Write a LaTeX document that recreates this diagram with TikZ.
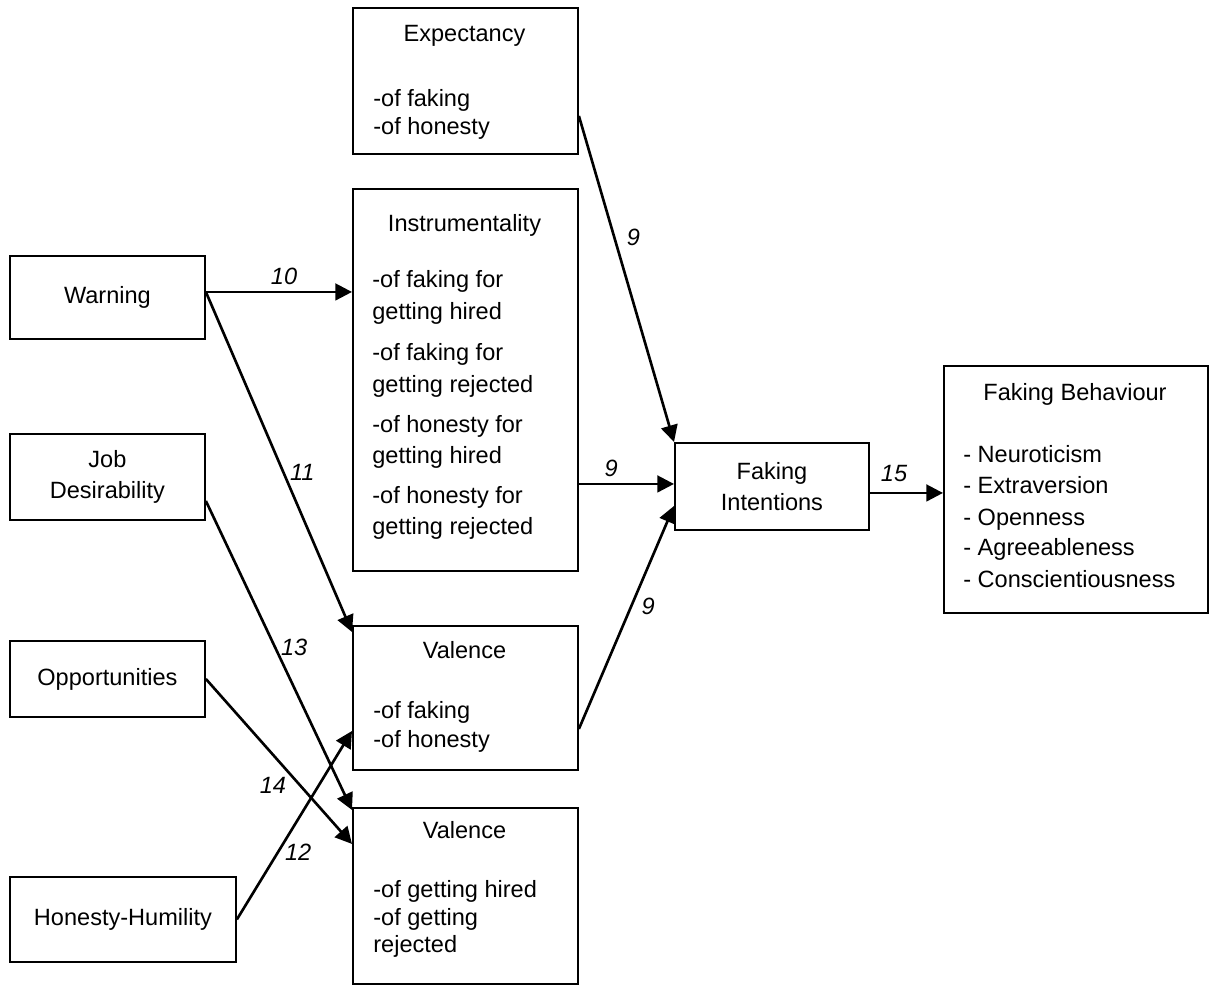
\documentclass[tikz,border=0pt]{standalone}
\usepackage{fontspec}
\setmainfont{Liberation Sans}
\usetikzlibrary{arrows.meta, positioning}

\begin{document}
\begin{tikzpicture}[x=0.02cm, y=-0.02cm, >={Triangle[length=9.5pt,width=9.5pt]}, font=\fontsize{13.4}{18}\selectfont]
\tikzstyle{box}=[draw, line width=1.1pt, anchor=north west, inner sep=0pt, align=center]
\tikzstyle{head}=[anchor=base, inner sep=0pt]
\tikzstyle{item}=[anchor=base west, inner sep=0pt]
\tikzstyle{conn}=[->, line width=1.5pt]
\tikzstyle{num}=[font=\fontsize{13.4}{18}\selectfont\itshape, inner sep=0pt]

\useasboundingbox (0,0) rectangle (1209,986);

% left column
\node[box, minimum width=3.9cm,  minimum height=1.66cm] (warn) at (9,255)  {Warning};
\node[box, minimum width=3.9cm,  minimum height=1.72cm] (job)  at (9,433)  {Job\\Desirability};
\node[box, minimum width=3.9cm,  minimum height=1.52cm] (opp)  at (9,640)  {Opportunities};
\node[box, minimum width=4.52cm, minimum height=1.7cm]  (hon)  at (9,876)  {Honesty-Humility};

% middle column
\node[box, minimum width=4.5cm, minimum height=2.92cm] (expect) at (352,7)   {};
\node[box, minimum width=4.5cm, minimum height=7.64cm] (instr)  at (352,188) {};
\node[box, minimum width=4.5cm, minimum height=2.88cm] (val1)   at (352,625) {};
\node[box, minimum width=4.5cm, minimum height=3.52cm] (val2)   at (352,807) {};

\node[head] (expect-h) at (464.5,42)  {Expectancy};
\node[head] (instr-h)  at (464.5,232) {Instrumentality};
\node[head] (val1-h)   at (464.5,658) {Valence};
\node[head] (val2-h)   at (464.5,838) {Valence};

\foreach \y/\t [count=\i] in {107/-of faking, 135/-of honesty}
  \node[item] (expect-\i) at (373,\y) {\t};
\foreach \y/\t [count=\i] in {288/-of faking for, 319/getting hired, 360/-of faking for, 392/getting rejected,
                              432/-of honesty for, 463/getting hired, 503/-of honesty for, 534/getting rejected}
  \node[item] (instr-\i) at (372,\y) {\t};
\foreach \y/\t [count=\i] in {718/-of faking, 747/-of honesty}
  \node[item] (val1-\i) at (373,\y) {\t};
\foreach \y/\t [count=\i] in {897/-of getting hired, 925/-of getting, 952/rejected}
  \node[item] (val2-\i) at (373,\y) {\t};

% right side
\node[box, minimum width=3.88cm, minimum height=1.74cm] (intent) at (674,442) {Faking\\Intentions};
\node[box, minimum width=5.28cm, minimum height=4.94cm] (behav)  at (943,365) {};
\node[head] (behav-h) at (1075,400) {Faking Behaviour};
\foreach \y/\t [count=\i] in {462/- Neuroticism, 493/- Extraversion, 525/- Openness, 555/- Agreeableness, 587/- Conscientiousness}
  \node[item] (behav-\i) at (963,\y) {\t};

% paths
\draw[conn] ([yshift=0.11cm]warn.east) -- node[num, pos=0.535, yshift=0.32cm] (n10) {10} ([yshift=0.11cm]warn.east -| instr.west);
\draw[conn] ([yshift=0.11cm]warn.east) -- node[num, pos=0.53, xshift=0.38cm] (n11) {11} ([yshift=-0.14cm]val1.north west);
\draw[conn] ([yshift=-0.48cm]job.east) -- node[num, pos=0.474, xshift=0.38cm] (n13) {13} ([yshift=-0.06cm]val2.north west);
\draw[conn] (opp.east) -- node[num, pos=0.644, xshift=-0.54cm] (n14) {14} ([yshift=1.04cm]val2.west);
\draw[conn] (hon.east) -- node[num, pos=0.358, xshift=0.4cm] (n12) {12} ([yshift=-0.66cm]val1.west);

\draw[conn] ([yshift=-0.7cm]expect.east) -- node[num, pos=0.373, xshift=0.38cm] (n9a) {9} (intent.north west);
\draw[conn] ([yshift=0.05cm]intent.west -| instr.east) -- node[num, pos=0.34, yshift=0.32cm] (n9b) {9} ([yshift=0.05cm]intent.west);
\draw[conn] ([yshift=-0.62cm]val1.east) -- node[num, pos=0.55, xshift=0.34cm] (n9c) {9} ([yshift=-0.39cm]intent.west);
\draw[conn] ([yshift=-0.13cm]intent.east) -- node[num, pos=0.33, yshift=0.38cm] (n15) {15} ([yshift=-0.13cm]intent.east -| behav.west);

\end{tikzpicture}
\end{document}
